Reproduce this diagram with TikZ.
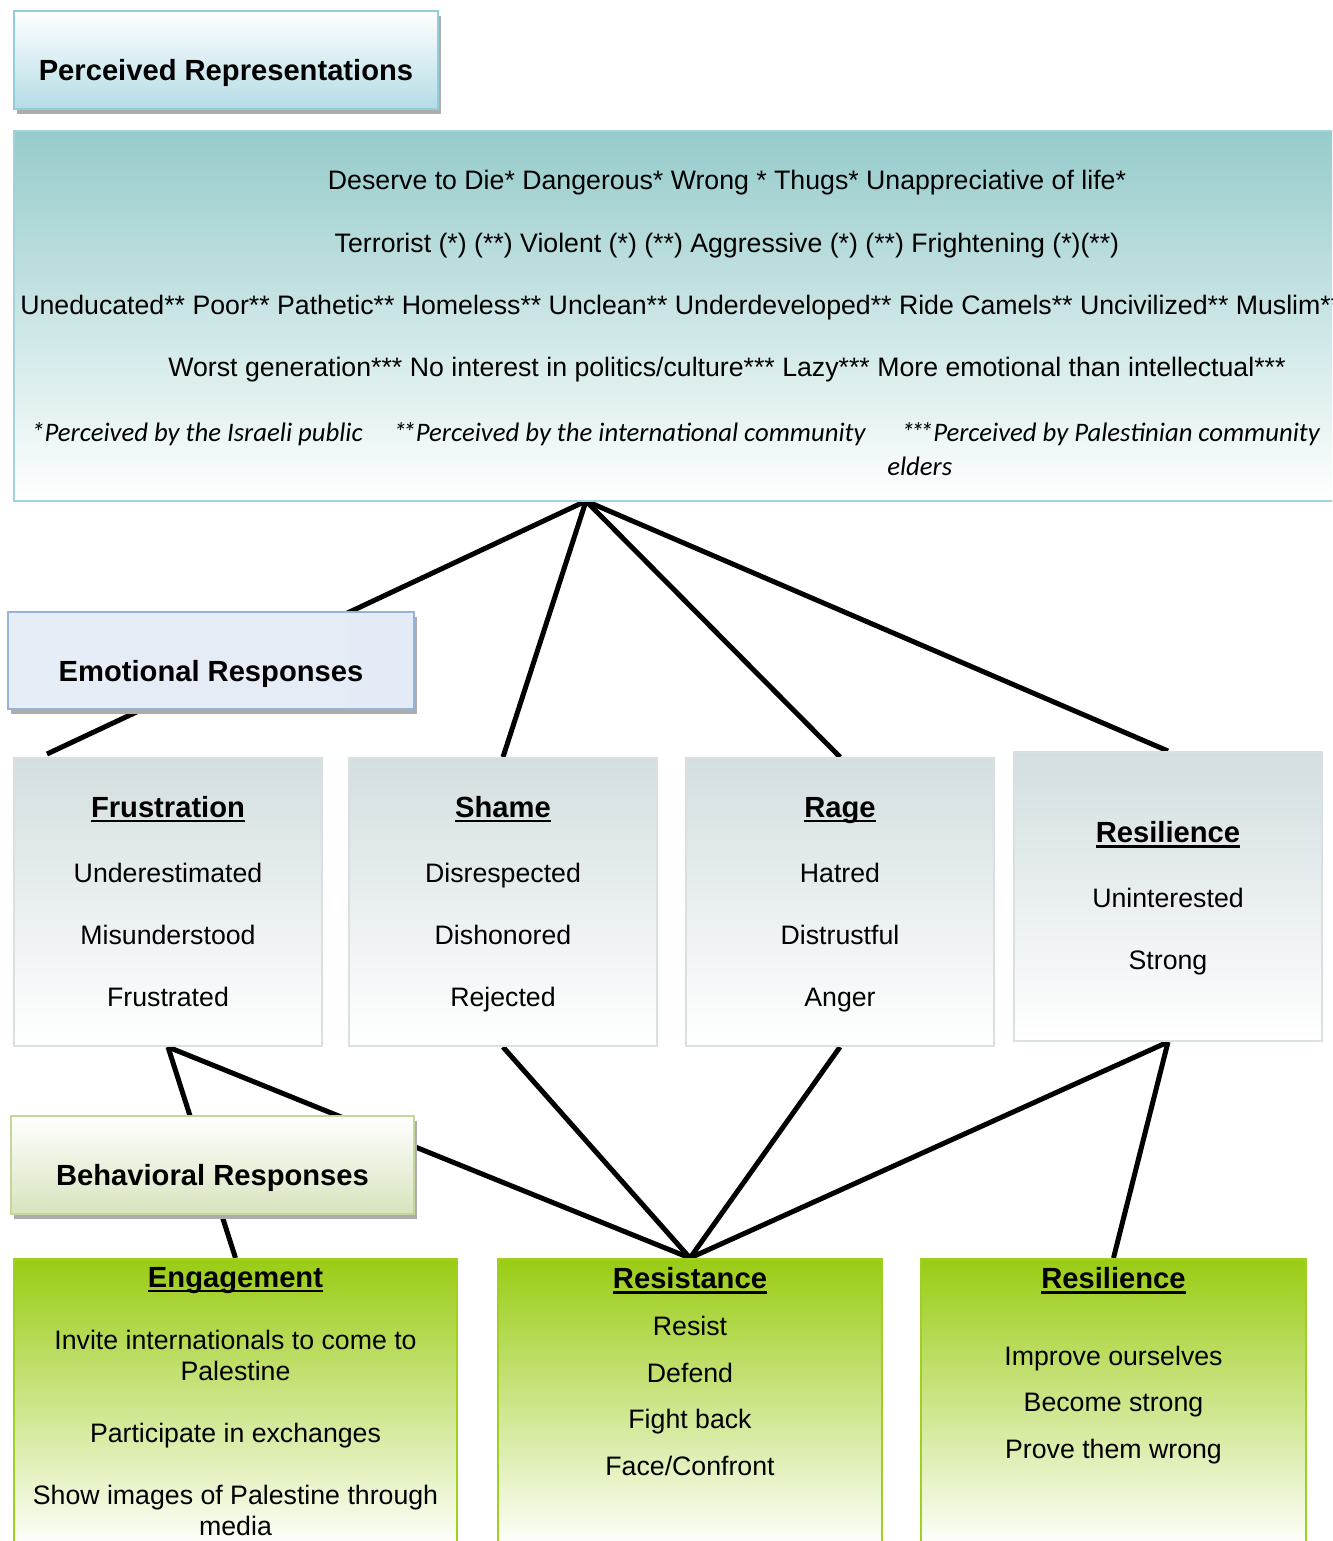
\documentclass[tikz,border=0pt]{standalone}
\usepackage{fontspec}
\setmainfont{Liberation Sans}
\newfontfamily\calibri{Carlito}
\usetikzlibrary{positioning,calc,backgrounds,shadows}
\definecolor{percteal}{RGB}{150,203,203}
\definecolor{percline}{RGB}{160,212,218}
\definecolor{titleblue}{RGB}{180,220,230}
\definecolor{titleline}{RGB}{146,205,220}
\definecolor{emoblue}{RGB}{206,219,238}
\definecolor{emoline}{RGB}{149,179,215}
\definecolor{boxgray}{RGB}{211,222,224}
\definecolor{boxline}{RGB}{216,224,226}
\definecolor{behgreen}{RGB}{215,228,189}
\definecolor{behline}{RGB}{195,214,155}
\definecolor{actgreen}{RGB}{154,204,20}
\definecolor{actline}{RGB}{158,207,35}
\newcommand{\px}{0.02cm}
\newcommand{\bodysize}{\fontsize{15.2}{17.6}\selectfont}
\newcommand{\headsize}{\fontsize{16.6}{19}\selectfont}
\newcommand{\stars}{*\kern-.15em*}
\newsavebox{\headbox}
\newcommand{\boxhead}[1]{\sbox{\headbox}{\headsize\bfseries #1}\usebox{\headbox}\llap{\rule[-0.1cm]{\wd\headbox}{0.055cm}}}
\newcommand{\cardhead}[1]{\rule{0pt}{0.58cm}\boxhead{#1}}

\begin{document}
\begin{tikzpicture}[x=\px, y=-\px, font=\bodysize,
  tagbox/.style={anchor=north west, inner sep=0pt, line width=2*\px, font=\headsize\bfseries,
    text height=0.9cm, text depth=0.08cm,
    general shadow={fill=gray!65, shadow xshift=3*\px, shadow yshift=-5*\px}},
  emocard/.style={anchor=north west, inner sep=0pt, align=center, draw=boxline, line width=2*\px,
    top color=boxgray, bottom color=white, minimum width=308*\px, minimum height=288*\px,
    execute at end node={\strut}},
  actcard/.style={anchor=north west, inner sep=0pt, draw=actline, line width=2*\px,
    top color=actgreen, bottom color=white, minimum height=290*\px},
  acttext/.style={anchor=north, inner sep=0pt, align=center},
  note/.style={anchor=west, inner sep=0pt, font=\calibri\itshape\bodysize},
  tie/.style={line width=5*\px},
]
\path[use as bounding box, clip] (0,0) rectangle (1332,1541);

% perceived representations
\node[anchor=north west, inner sep=0pt, draw=percline, line width=2*\px, top color=percteal,
  bottom color=white, minimum width=1428*\px, minimum height=370*\px] (perc) at (13,130) {};
\node (rep1) at (727,183) {Deserve to Die* Dangerous* Wrong * Thugs* Unappreciative of life*};
\node (rep2) at (727,246) {Terrorist (*) (**) Violent (*) (**) Aggressive (*) (**) Frightening (*)(**)};
\node[anchor=west, inner sep=0pt] (rep3) at (20,308) {Uneducated** Poor** Pathetic** Homeless** Unclean** Underdeveloped** Ride Camels** Uncivilized** Muslim**};
\node (rep4) at (727,370) {Worst generation*** No interest in politics/culture*** Lazy*** More emotional than intellectual***};
\node[note] (israeli) at (31,434) {*Perceived by the Israeli public};
\node[note] (intl) at (393,434) {\stars Perceived by the international community};
\node[note] (elders) at (901,434) {\stars\kern-.15em*Perceived by Palestinian community};
\node[note] (elders2) at (887,466) {elders};
\node[tagbox, draw=titleline, top color=white, bottom color=titleblue,
  minimum width=424*\px, minimum height=98*\px] (ptitle) at (13,10) {Perceived Representations};

% emotional responses
\node[emocard] (frus) at (13,757) {\cardhead{Frustration}\\[0.68cm]Underestimated\\[0.62cm]Misunderstood\\[0.62cm]Frustrated};
\node[emocard] (shame) at (348,757) {\cardhead{Shame}\\[0.68cm]Disrespected\\[0.62cm]Dishonored\\[0.62cm]Rejected};
\node[emocard] (rage) at (685,757) {\cardhead{Rage}\\[0.68cm]Hatred\\[0.62cm]Distrustful\\[0.62cm]Anger};
\node[emocard, minimum height=289*\px] (resi) at (1013,751) {\cardhead{Resilience}\\[0.68cm]Uninterested\\[0.62cm]Strong};
\node[tagbox, draw=emoline, left color=white!50!emoblue, middle color=emoblue, right color=white!45!emoblue,
  minimum width=406*\px, minimum height=97*\px] (etitle) at (7,611) {Emotional Responses};

% behavioral responses
\node[actcard, minimum width=443*\px] (eng) at (13,1258) {};
\node[actcard, minimum width=384*\px] (resist) at (497,1258) {};
\node[actcard, minimum width=385*\px] (resil) at (920,1258) {};
\node[acttext] (engtext) at ($(eng.north)+(0,9)$) {\boxhead{Engagement}\\[0.62cm]Invite internationals to come to\\Palestine\\[0.62cm]Participate in exchanges\\[0.62cm]Show images of Palestine through\\media};
\node[acttext] (resisttext) at ($(resist.north)+(0,9)$) {\boxhead{Resistance}\\[0.33cm]Resist\\[0.31cm]Defend\\[0.31cm]Fight back\\[0.31cm]Face/Confront};
\node[acttext] (resiltext) at ($(resil.north)+(0,9)$) {\boxhead{Resilience}\\[0.92cm]Improve ourselves\\[0.31cm]Become strong\\[0.31cm]Prove them wrong};
\node[tagbox, draw=behline, top color=white, bottom color=behgreen,
  minimum width=403*\px, minimum height=98*\px] (btitle) at (10,1115) {Behavioral Responses};

\coordinate (hub) at (586,501);
\coordinate (frustop) at (47,754);
\begin{scope}[on background layer]
\draw[tie] (hub) -- (frustop);
\draw[tie] (hub) -- (shame.north);
\draw[tie] (hub) -- (rage.north);
\draw[tie] (hub) -- (resi.north);
\draw[tie] (frus.south) -- (eng.north);
\draw[tie] (frus.south) -- (resist.north);
\draw[tie] (shame.south) -- (resist.north);
\draw[tie] (rage.south) -- (resist.north);
\draw[tie] (resi.south) -- (resist.north);
\draw[tie] (resi.south) -- (resil.north);
\end{scope}
\end{tikzpicture}
\end{document}
